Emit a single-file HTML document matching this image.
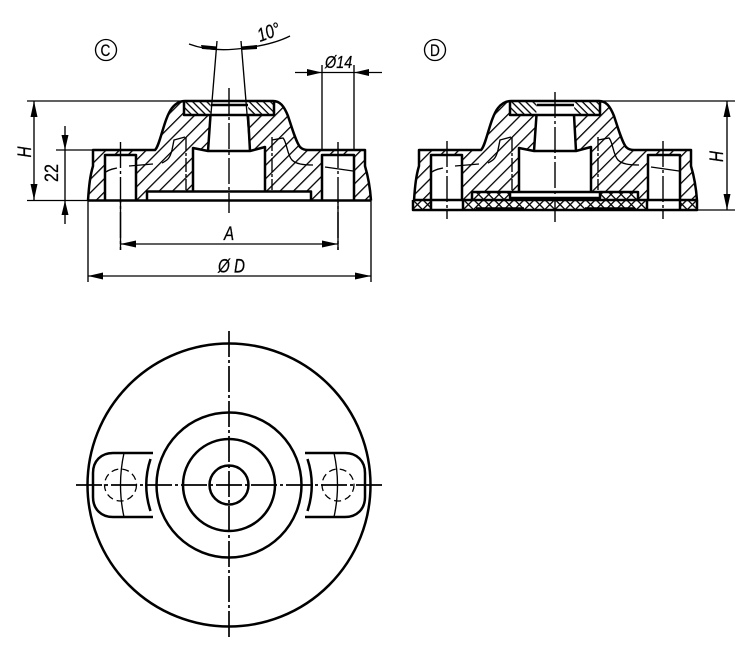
<!DOCTYPE html>
<html><head><meta charset="utf-8"><style>
html,body{margin:0;padding:0;background:#fff}
svg{display:block}
text{font-family:"Liberation Sans",sans-serif;fill:#000;stroke:#000;stroke-width:.25}
.t{fill:none;stroke:#000;stroke-width:1.35}
.k{fill:none;stroke:#000;stroke-width:2.5;stroke-linejoin:round}
.c{fill:none;stroke:#000;stroke-width:1.4;stroke-dasharray:26 3 3 3}
.d{fill:none;stroke:#000;stroke-width:1.3;stroke-dasharray:7 4}
</style></head><body>
<svg width="750" height="655" viewBox="0 0 750 655" xmlns="http://www.w3.org/2000/svg">
<defs>
<pattern id="h" width="9.5" height="9.5" patternUnits="userSpaceOnUse" patternTransform="rotate(-45)"><rect width="9.5" height="1.3" fill="#000"/></pattern>
<pattern id="r" width="5" height="5" patternUnits="userSpaceOnUse" patternTransform="rotate(45)"><rect width="5" height="1.3" fill="#000"/></pattern>
<pattern id="x" width="7.200" height="7.200" patternUnits="userSpaceOnUse" patternTransform="rotate(45)"><rect width="7.200" height="1.3" fill="#000"/><rect width="1.3" height="7.200" fill="#000"/></pattern>
<g id="body">
<path d="M88 200.500C89 186 90 176 93 166V150H155C160 146 164 118 172 108C176 103 180 101 185 101H273C280 101 284 106 288 116C292 128 296 142 300 147C302 149 304 150 308 150H365V166C368 176 370 186 371 200.500Z" fill="url(#h)"/>
<rect x="184" y="102" width="90" height="13" fill="#fff"/>
<rect x="184" y="102" width="90" height="13" fill="url(#r)"/>
<path d="M208 151L211 102H248L250 151Z" fill="#fff"/>
<path d="M193 191V148L208 151H250L265 147V191Z" fill="#fff"/>
<rect x="105" y="155" width="31" height="46" fill="#fff"/>
<rect x="322" y="155" width="32" height="46" fill="#fff"/>
<path class="k" d="M88 200.500C89 186 90 176 93 166V150H155C160 146 164 118 172 108C176 103 180 101 185 101H273C280 101 284 106 288 116C292 128 296 142 300 147C302 149 304 150 308 150H365V166C368 176 370 186 371 200.500"/>
<path class="k" d="M184 102V115H274V102M211 105H248M208 115H251"/>
<path class="k" d="M208 151L210.500 115M250 151L248 115"/>
<path class="k" d="M193 191V148L208 151H250L265 147V191"/>
<path class="k" d="M105 200V155H136V200M322 200V155H354V200"/>
<path class="t" d="M186 137V190M272 137V190" stroke-dasharray="14 2 3 2"/>
<path class="t" d="M106 172C110 169 113 169 117 168M129 166L153 164M162 163C168 160 170 158 172 150L174 140L185 137"/>
<path class="t" d="M272 140L283 138C287 142 287 155 292 160C296 164 303 165 313 165M325 167L353 171"/>
</g>
</defs>

<use href="#body"/>
<rect x="147" y="191.500" width="164" height="9" fill="#fff"/>
<path class="k" d="M147 200V191.500H311V200M88 200.500H371"/>

<use href="#body" x="326"/>
<path d="M413 200H431V210H413ZM680 200H697V210H680ZM463 200H472V192H638V200H647V210H463Z" fill="#fff"/>
<path d="M413 200H431V210H413ZM680 200H697V210H680ZM463 200H472V192H638V200H647V210H463Z" fill="url(#x)"/>
<rect x="510" y="192" width="90" height="6" fill="#fff"/>
<path class="k" d="M414 200H697M413 200V210H697V200M431 200V210M463 200V210M647 200V210M680 200V210"/>
<path class="k" d="M472 200V192H638V200M510 192V198H600V192"/>
<path class="k" d="M476 208.500H524M585 208.500H635" stroke-width="3"/>

<!-- centrelines -->
<path class="c" d="M229 88V213M120.500 142V250M338 142V250"/>
<path class="c" d="M555 92V222M447 141V219M663 141V219"/>

<!-- 10 deg -->
<path class="t" d="M217 41L208 150M241 41L250 150"/>
<path class="t" d="M189 44C205 50 225 51 245 48C262 46 278 42 290 36"/>
<path d="M201 45L217 46.500L217 50L202 49Z" fill="#000"/>
<path d="M241 46.500L257 45L257 49L241 50Z" fill="#000"/>
<text transform="translate(260,42) rotate(-20) scale(.8,1)" font-size="19" font-style="italic">10°</text>

<!-- dia 14 -->
<path class="t" d="M322 65V150M354 65V150M295 72.500H382"/>
<path d="M322 72.500L307 69V76ZM354 72.500L369 69V76Z" fill="#000"/>
<text transform="translate(325,68) scale(.8,1)" font-size="18" font-style="italic">Ø14</text>

<!-- H C -->
<path class="t" d="M27 101H184M27 200.500H88M34 101V200M56 150H93"/>
<path d="M34 101L30.500 117H37.500ZM34 200L30.500 184H37.500Z" fill="#000"/>
<text transform="translate(31,157.500) rotate(-90) scale(.8,1)" font-size="19" font-style="italic">H</text>

<!-- 22 -->
<path class="t" d="M65 126V224"/>
<path d="M65 150L61.500 135H68.500ZM65 200.500L61.500 215H68.500Z" fill="#000"/>
<text transform="translate(58,182) rotate(-90) scale(.85,1)" font-size="19">22</text>

<!-- A, D -->
<path class="t" d="M88 200V282M371 200V282M120.500 200V250M338 200V250M120.500 244H338M88 276H371"/>
<path d="M120.500 244L136 240.500V247.500ZM338 244L322 240.500V247.500ZM88 276L103 272.500V279.500ZM371 276L355 272.500V279.500Z" fill="#000"/>
<text transform="translate(224,240) scale(.8,1)" font-size="19" font-style="italic">A</text>
<text transform="translate(218,272.500) scale(.8,1)" font-size="19" font-style="italic">Ø D</text>

<!-- H D -->
<path class="t" d="M600 101H735M697 210H735M727 101V210"/>
<path d="M727 101L723.500 117H730.500ZM727 210L723.500 194H730.500Z" fill="#000"/>
<text transform="translate(723,162) rotate(-90) scale(.8,1)" font-size="19" font-style="italic">H</text>

<!-- labels -->
<circle class="t" cx="106" cy="50" r="10.500"/>
<text transform="translate(100.500,56) scale(.8,1)" font-size="17">C</text>
<circle class="t" cx="435" cy="50" r="10.500"/>
<text transform="translate(430,56) scale(.8,1)" font-size="17">D</text>

<!-- plan view -->
<circle class="k" cx="229" cy="485" r="141.500"/>
<circle class="k" cx="229" cy="485" r="72.500"/>
<circle class="k" cx="229" cy="485" r="46"/>
<circle class="k" cx="229" cy="485" r="19.500"/>
<path class="k" d="M153 453H113C101 453 93 461 93 473V497C93 509 101 517 113 517H153"/>
<path class="k" d="M305 453H345C357 453 365 461 365 473V497C365 509 357 517 345 517H305"/>
<path class="k" d="M150.500 459Q142 485 150.500 511M307.500 459Q316 485 307.500 511"/>
<path class="t" d="M124 453Q117 485 124 517M334 453Q341 485 334 517"/>
<circle class="d" cx="120.500" cy="485" r="16"/>
<circle class="d" cx="338" cy="485" r="16"/>
<path class="c" d="M76 485H383M229 331V638" style="stroke-width:1.7"/>
</svg>
</body></html>
